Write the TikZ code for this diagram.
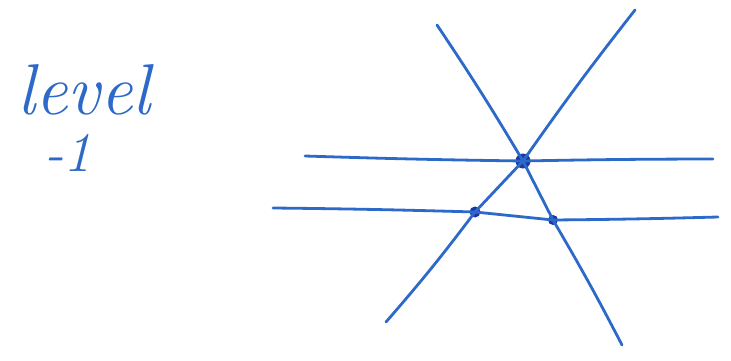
\documentclass[tikz,border=0pt]{standalone}
\usetikzlibrary{positioning}
\definecolor{ink}{RGB}{45,105,200}
\definecolor{inkdark}{RGB}{25,55,165}
\tikzset{
    pen/.style={draw=ink, line width=2.8pt, line cap=round, line join=round},
    dot/.style={shape=circle, fill=inkdark, inner sep=0pt},
    scrawl/.style={text=ink, font=\fontsize{72}{72}\selectfont\itshape, inner sep=0pt}
}
\begin{document}
\begin{tikzpicture}[x=1pt, y=-1pt]
    \useasboundingbox (0,0) rectangle (731,361);
    % label
    \node[name=lvl, scrawl] at (84,90) {level};
    \node[name=idx, scrawl, font=\fontsize{56}{56}\selectfont\itshape] at (68,153) {-1};
    % intersection points
    \node[name=apex, dot, minimum size=15pt] at (523,161) {};
    \node[name=left, dot, minimum size=11pt] at (475,212) {};
    \node[name=right, dot, minimum size=10pt] at (553,220) {};
    % free ends
    \coordinate (h1w) at (305,156);
    \coordinate (h1e) at (713,159);
    \coordinate (h2w) at (273,208);
    \coordinate (h2e) at (718,217);
    \coordinate (atop) at (437,25);
    \coordinate (abot) at (622,345);
    \coordinate (btop) at (635,10);
    \coordinate (bbot) at (386,322);
    % horizontals
    \draw[pen] (h1w) to[bend right=0.5] (apex.center) to[bend left=0.5] (h1e);
    \draw[pen] (h2w) to[bend left=0.5] (left.center) -- (right.center) to[bend right=0.5] (h2e);
    % slanted lines
    \draw[pen] (atop) to[bend left=1.5] (apex.center) -- (right.center) to[bend left=1.5] (abot);
    \draw[pen] (btop) to[bend right=1.5] (apex.center) -- (left.center) to[bend left=2] (bbot);
\end{tikzpicture}
\end{document}
